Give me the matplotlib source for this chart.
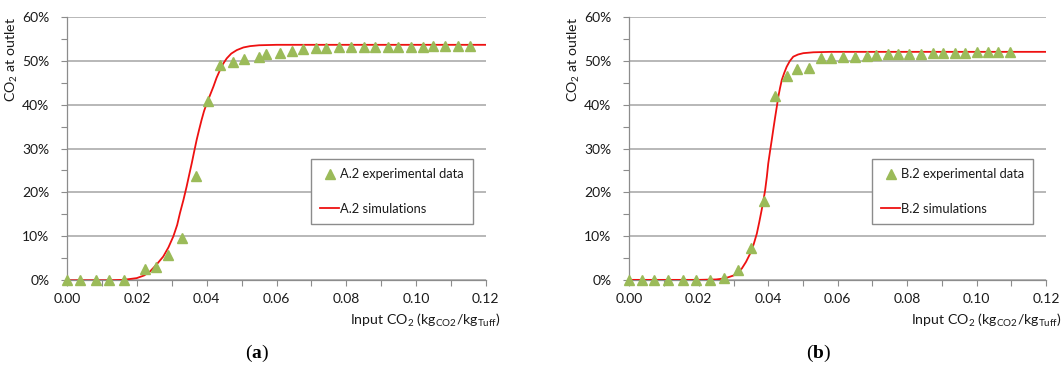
"""Breakthrough curves of CO2 at the outlet: experiments vs simulations."""

import numpy as np
import matplotlib
import matplotlib.pyplot as plt
from matplotlib.ticker import MultipleLocator, FuncFormatter

matplotlib.use("Agg")

plt.rcParams["font.family"] = ["Lato", "DejaVu Sans"]
plt.rcParams["mathtext.fontset"] = "custom"
plt.rcParams["mathtext.bf"] = "Liberation Serif:bold"

# ---- panel (a): test A.2 ----
a_exp_x = [0.0, 0.0036, 0.0081, 0.0120, 0.0162, 0.0224, 0.0253, 0.0290, 0.0330,
           0.0368, 0.0403, 0.0439, 0.0476, 0.0507, 0.0550, 0.0571, 0.0610, 0.0645,
           0.0675, 0.0713, 0.0743, 0.0779, 0.0814, 0.0850, 0.0882, 0.0919, 0.0947,
           0.0985, 0.1020, 0.1050, 0.1082, 0.1119, 0.1154]
a_exp_y = [0.0, 0.0, 0.0, 0.0, 0.15, 2.6, 3.0, 5.7, 9.6,
           23.8, 40.9, 49.0, 49.7, 50.3, 50.8, 51.5, 51.8, 52.3,
           52.6, 52.8, 52.9, 53.0, 53.0, 53.0, 53.1, 53.1, 53.2,
           53.2, 53.2, 53.3, 53.3, 53.4, 53.4]
a_sim_x = [0.0, 0.012, 0.016, 0.0199, 0.022, 0.0237, 0.0256, 0.0275, 0.029, 0.0304,
           0.0315, 0.0323, 0.0333, 0.0342, 0.0350, 0.0357, 0.0364, 0.0371, 0.0378,
           0.0385, 0.0392, 0.0400, 0.0410, 0.0419, 0.0428, 0.0438, 0.0447, 0.0457,
           0.0470, 0.0486, 0.0505, 0.0524, 0.055, 0.060, 0.12]
a_sim_y = [0.0, 0.0, 0.1, 0.5, 1.1, 2.0, 3.6, 5.4, 7.5, 10.0,
           12.6, 15.3, 18.3, 21.3, 24.2, 26.7, 29.4, 32.0, 34.3,
           36.5, 38.5, 40.3, 42.3, 44.1, 46.1, 47.9, 49.3, 50.5,
           51.6, 52.4, 53.0, 53.3, 53.5, 53.6, 53.6]

# ---- panel (b): test B.2 ----
b_exp_x = [0.0, 0.0036, 0.0072, 0.0110, 0.0154, 0.0193, 0.0231, 0.0273, 0.0314,
           0.0351, 0.0387, 0.0420, 0.0455, 0.0483, 0.0517, 0.0552, 0.0582, 0.0614,
           0.0649, 0.0684, 0.0710, 0.0744, 0.0774, 0.0806, 0.0840, 0.0873, 0.0904,
           0.0938, 0.0967, 0.1000, 0.1033, 0.1062, 0.1097]
b_exp_y = [0.0, 0.0, 0.0, 0.0, 0.0, 0.0, 0.1, 0.6, 2.3,
           7.3, 18.1, 42.0, 46.5, 48.0, 48.4, 50.7, 50.7, 50.9,
           50.9, 51.1, 51.2, 51.4, 51.5, 51.6, 51.6, 51.7, 51.7,
           51.8, 51.8, 51.9, 51.9, 51.9, 51.9]
b_sim_x = [0.0, 0.020, 0.025, 0.0271, 0.0285, 0.030, 0.0312, 0.0324, 0.0336, 0.0348,
           0.0358, 0.0367, 0.0374, 0.0381, 0.0386, 0.0391, 0.0396, 0.0400, 0.0405,
           0.0410, 0.0415, 0.0420, 0.0425, 0.0429, 0.0434, 0.0439, 0.0446, 0.0453,
           0.0462, 0.0472, 0.0486, 0.0501, 0.053, 0.058, 0.12]
b_sim_y = [0.1, 0.1, 0.2, 0.4, 0.7, 1.1, 1.8, 2.7, 4.2, 6.1,
           8.2, 10.6, 13.2, 16.0, 18.2, 20.5, 23.6, 26.6, 29.3,
           31.9, 34.6, 37.2, 39.7, 41.8, 43.8, 45.6, 47.2, 48.6,
           49.9, 50.9, 51.4, 51.7, 51.9, 52.0, 52.0]

panels = [
    ("A.2", a_exp_x, a_exp_y, a_sim_x, a_sim_y, "a"),
    ("B.2", b_exp_x, b_exp_y, b_sim_x, b_sim_y, "b"),
]

GREEN = "#9BBB59"
RED = "#EE1111"
GRID = "#ABABAB"
AXIS = "#8C8C8C"
TEXT = "#1A1A1A"

fig = plt.figure(figsize=(10.62, 3.67), dpi=100)
axes_rects = [
    [0.0634, 0.2362, 0.3940, 0.7183],
    [0.5926, 0.2362, 0.3924, 0.7183],
]

for rect, (name, ex, ey, sx, sy, tag) in zip(axes_rects, panels):
    ax = fig.add_axes(rect)
    ax.plot(sx, sy, color=RED, lw=1.3, label=f"{name} simulations", zorder=3)
    ax.plot(ex, ey, ls="none", marker="^", ms=6.5, color=GREEN, mec=GREEN,
            label=f"{name} experimental data", clip_on=False, zorder=4)

    ax.set_xlim(0, 0.12)
    ax.set_ylim(0, 60)
    ax.xaxis.set_major_locator(MultipleLocator(0.02))
    ax.xaxis.set_minor_locator(MultipleLocator(0.01))
    ax.yaxis.set_major_locator(MultipleLocator(10))
    ax.yaxis.set_minor_locator(MultipleLocator(5))
    ax.xaxis.set_major_formatter(FuncFormatter(lambda v, p: f"{v:.2f}"))
    ax.yaxis.set_major_formatter(FuncFormatter(lambda v, p: f"{v:.0f}%"))
    ax.tick_params(which="both", direction="out", length=4, width=0.8,
                   color=AXIS, labelsize=10, labelcolor=TEXT)
    ax.tick_params(axis="x", pad=5)
    ax.tick_params(axis="y", pad=9)

    ax.grid(axis="y", which="major", color=GRID, lw=1.2)
    ax.set_axisbelow(True)
    for side in ("top", "right"):
        ax.spines[side].set_visible(False)
    for side in ("left", "bottom"):
        ax.spines[side].set_color(AXIS)
        ax.spines[side].set_linewidth(0.9)

    ax.set_ylabel(r"CO$_\mathregular{2}$ at outlet", fontsize=10.2, color=TEXT,
                  loc="top")
    ax.yaxis.set_label_coords(-0.113, 1.0)
    ax.set_xlabel(r"Input CO$_\mathregular{2}$ (kg$_\mathregular{CO2}$/kg$_\mathregular{Tuff}$)",
                  fontsize=10.2, color=TEXT, loc="right")
    ax.xaxis.set_label_coords(1.037, -0.12)

    handles, labels = ax.get_legend_handles_labels()
    leg = ax.legend(handles[::-1], labels[::-1], loc="upper left",
                    bbox_to_anchor=(0.582, 0.459), borderaxespad=0,
                    fontsize=9.3, numpoints=1, handlelength=1.5,
                    handletextpad=0.05, labelspacing=1.75, borderpad=0.7,
                    fancybox=False, framealpha=1, edgecolor=AXIS)
    leg.get_frame().set_linewidth(1.0)
    for t in leg.get_texts():
        t.set_color(TEXT)

    x_center = rect[0] + 0.4535 * rect[2]
    fig.text(x_center, 1 - 353 / 367, rf"($\mathbf{{{tag}}}$)",
             family="Liberation Serif", fontsize=14, ha="center", va="center",
             color="black")

fig.savefig("out.png", dpi=100)
plt.close(fig)
